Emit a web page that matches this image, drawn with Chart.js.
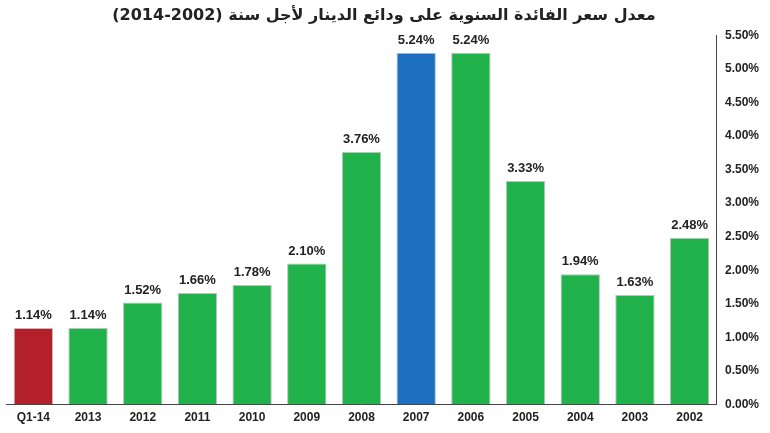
<!DOCTYPE html>
<html>
<head>
<meta charset="utf-8">
<script src="https://cdn.jsdelivr.net/npm/chart.js@4/dist/chart.umd.min.js"></script>
<style>
  body { margin: 0; background: #fff; }
  #wrap { width: 770px; height: 433px; }
</style>
</head>
<body>
<div id="wrap"><canvas id="graphique"></canvas></div>
<script>
const categories = ['Q1-14', '2013', '2012', '2011', '2010', '2009', '2008', '2007', '2006', '2005', '2004', '2003', '2002'];
const taux = [1.14, 1.14, 1.52, 1.66, 1.78, 2.10, 3.76, 5.24, 5.24, 3.33, 1.94, 1.63, 2.48];
const couleurs = ['#b3202a', '#22b24c', '#22b24c', '#22b24c', '#22b24c', '#22b24c', '#22b24c', '#1e6fc1', '#22b24c', '#22b24c', '#22b24c', '#22b24c', '#22b24c'];
const titre = 'معدل سعر الفائدة السنوية على ودائع الدينار لأجل سنة (2002-2014)';

// étiquettes au-dessus des barres
const etiquettes = {
  id: 'etiquettes',
  afterDatasetsDraw(chart) {
    const ctx = chart.ctx;
    ctx.save();
    ctx.font = 'bold 13px "Liberation Sans", Arial, sans-serif';
    ctx.fillStyle = '#222';
    ctx.textAlign = 'center';
    ctx.textBaseline = 'bottom';
    chart.getDatasetMeta(0).data.forEach((bar, i) => {
      ctx.fillText(taux[i].toFixed(2) + '%', bar.x, bar.y - 6);
    });
    ctx.restore();
  }
};

new Chart(document.getElementById('graphique'), {
  type: 'bar',
  data: {
    labels: categories,
    datasets: [{
      data: taux,
      backgroundColor: couleurs,
      borderColor: 'rgba(0,0,0,0.25)',
      borderWidth: 1,
      barPercentage: 0.72,
      categoryPercentage: 1
    }]
  },
  options: {
    responsive: true,
    maintainAspectRatio: false,
    animation: false,
    layout: { padding: { left: 6, right: 8, top: 0, bottom: 2 } },
    scales: {
      x: {
        grid: { display: false, drawTicks: false },
        border: { color: '#444' },
        ticks: { color: '#222', padding: 6, font: { family: '"Liberation Sans", Arial', size: 12, weight: 'bold' } }
      },
      y: {
        position: 'right',
        min: 0,
        max: 5.5,
        grid: { display: false, drawTicks: true, tickLength: 5, color: '#444' },
        border: { color: '#444' },
        ticks: {
          stepSize: 0.5,
          color: '#222',
          font: { family: '"Liberation Sans", Arial', size: 12, weight: 'bold' },
          callback: v => v.toFixed(2) + '%'
        }
      }
    },
    plugins: {
      legend: { display: false },
      tooltip: { enabled: false },
      title: {
        display: true,
        text: titre,
        color: '#222',
        font: { family: '"DejaVu Sans", sans-serif', size: 16, weight: 'bold' },
        padding: { top: 6, bottom: 10 }
      }
    }
  },
  plugins: [etiquettes]
});
</script>
</body>
</html>
